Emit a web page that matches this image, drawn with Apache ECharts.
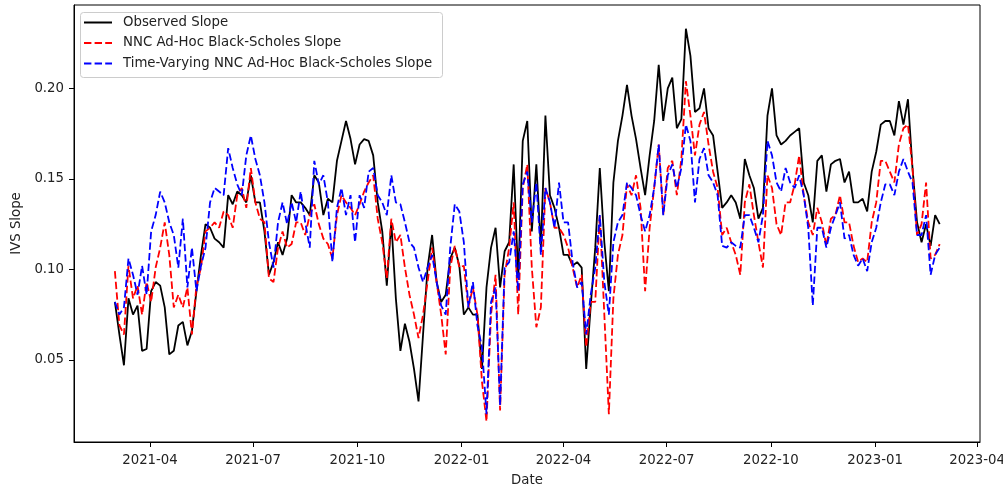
<!DOCTYPE html>
<html><head><meta charset="utf-8">
<script src="https://cdn.jsdelivr.net/npm/echarts@6/dist/echarts.min.js"></script>
<style>html,body{margin:0;padding:0;background:#fff}#c{width:1003px;height:493px}</style>
</head><body><div id="c"></div>
<script>
const startDate = '2021-03-01';
const stepDays = 4;
const observed = [
0.082,0.064,0.047,0.084,0.075,0.080,0.055,0.056,0.088,0.093,0.091,0.079,0.053,0.055,0.069,0.071,0.058,0.066,0.088,0.108,
0.125,0.123,0.117,0.115,0.112,0.141,0.136,0.143,0.141,0.137,0.152,0.137,0.137,0.121,0.097,0.104,0.115,0.108,0.117,0.141,0.137,
0.137,0.134,0.130,0.152,0.148,0.130,0.139,0.137,0.160,0.171,0.182,0.172,0.158,0.169,0.172,0.171,0.163,0.137,0.121,0.091,0.126,0.084,
0.055,0.070,0.060,0.045,0.027,0.064,0.101,0.119,0.093,0.082,0.086,0.106,0.112,0.102,0.075,0.079,0.075,0.075,0.045,0.090,0.112,
0.123,0.090,0.110,0.115,0.158,0.095,0.171,0.182,0.121,0.158,0.112,0.185,0.141,0.134,0.123,0.108,0.108,0.102,0.104,0.101,0.045,0.080,
0.112,0.156,0.115,0.088,0.148,0.171,0.185,0.202,0.185,0.172,0.156,0.141,0.163,0.182,0.213,0.182,0.200,0.206,0.178,0.183,0.233,
0.218,0.187,0.189,0.200,0.178,0.174,0.154,0.134,0.137,0.141,0.137,0.128,0.161,0.152,0.145,0.128,0.134,0.185,0.200,0.174,0.169,
0.171,0.174,0.176,0.178,0.148,0.141,0.126,0.160,0.163,0.143,0.158,0.160,0.161,0.148,0.154,0.137,0.137,0.139,0.132,0.154,0.165,0.180,
0.182,0.182,0.174,0.193,0.180,0.194,0.156,0.126,0.115,0.125,0.113,0.130,0.125
];
const nncAdHoc = [
0.099,0.069,0.064,0.102,0.084,0.091,0.075,0.093,0.082,0.101,0.112,0.126,0.108,0.079,0.086,0.079,0.090,0.064,0.091,0.101,
0.121,0.123,0.126,0.123,0.132,0.130,0.123,0.141,0.145,0.134,0.156,0.137,0.128,0.126,0.095,0.093,0.112,0.121,0.112,0.114,0.126,
0.126,0.119,0.130,0.136,0.125,0.117,0.114,0.106,0.130,0.141,0.137,0.134,0.130,0.136,0.143,0.148,0.152,0.128,0.115,0.095,0.128,0.115,
0.119,0.101,0.086,0.075,0.062,0.075,0.093,0.112,0.093,0.075,0.053,0.101,0.113,0.101,0.102,0.079,0.090,0.075,0.038,0.016,0.075,
0.097,0.022,0.097,0.112,0.137,0.075,0.145,0.158,0.101,0.068,0.079,0.145,0.137,0.123,0.123,0.119,0.112,0.101,0.090,0.097,0.057,0.082,
0.082,0.130,0.075,0.020,0.084,0.108,0.119,0.147,0.141,0.152,0.134,0.088,0.123,0.145,0.169,0.130,0.156,0.160,0.141,0.161,0.204,
0.185,0.163,0.180,0.187,0.169,0.154,0.145,0.119,0.123,0.115,0.108,0.097,0.137,0.147,0.130,0.115,0.101,0.152,0.145,0.125,0.119,
0.137,0.137,0.147,0.163,0.141,0.126,0.119,0.134,0.126,0.113,0.128,0.130,0.141,0.126,0.126,0.113,0.104,0.106,0.104,0.126,0.137,0.160,
0.160,0.154,0.148,0.169,0.178,0.180,0.156,0.119,0.125,0.148,0.106,0.108,0.114
];
const timeVarying = [
0.082,0.075,0.079,0.106,0.097,0.086,0.102,0.086,0.121,0.130,0.143,0.137,0.126,0.119,0.101,0.128,0.090,0.112,0.088,0.102,
0.112,0.137,0.145,0.143,0.141,0.167,0.156,0.147,0.141,0.163,0.174,0.161,0.152,0.137,0.115,0.101,0.126,0.137,0.125,0.137,0.126,
0.143,0.126,0.112,0.160,0.147,0.152,0.137,0.104,0.134,0.145,0.130,0.141,0.115,0.141,0.134,0.154,0.156,0.141,0.137,0.130,0.152,0.137,
0.136,0.126,0.115,0.112,0.101,0.093,0.101,0.108,0.093,0.080,0.075,0.112,0.136,0.132,0.115,0.079,0.093,0.069,0.057,0.020,0.082,
0.090,0.025,0.101,0.104,0.121,0.088,0.147,0.154,0.126,0.148,0.108,0.145,0.137,0.123,0.148,0.126,0.126,0.104,0.090,0.093,0.064,0.086,
0.101,0.130,0.093,0.075,0.115,0.126,0.130,0.148,0.145,0.141,0.130,0.121,0.130,0.145,0.169,0.130,0.152,0.158,0.145,0.156,0.180,
0.171,0.137,0.161,0.167,0.152,0.148,0.141,0.113,0.112,0.115,0.113,0.112,0.130,0.130,0.123,0.115,0.130,0.171,0.163,0.148,0.143,
0.156,0.148,0.145,0.152,0.141,0.123,0.080,0.123,0.123,0.112,0.123,0.130,0.137,0.117,0.119,0.108,0.102,0.106,0.099,0.115,0.123,0.137,
0.147,0.147,0.141,0.154,0.161,0.154,0.148,0.119,0.119,0.130,0.097,0.108,0.112
];
const seriesNames = ['Observed Slope','NNC Ad-Hoc Black-Scholes Slope','Time-Varying NNC Ad-Hoc Black-Scholes Slope'];
const seriesColors = ['#000000', '#ff0000', '#0000ff'];
const yTicks = [0.05, 0.10, 0.15, 0.20];
const xTickDates = ['2021-04-01','2021-07-01','2021-10-01','2022-01-01','2022-04-01','2022-07-01','2022-10-01','2023-01-01','2023-04-01'];
const xRange = ['2021-01-23T22:00:00Z','2023-04-03T14:00:00Z'];
const yRange = [0.0046, 0.2461];

const DAY = 86400000;
const t0 = Date.parse(startDate + 'T00:00:00Z');
const dates = observed.map((_, i) => t0 + i * stepDays * DAY);
const pair = arr => arr.map((v, i) => [dates[i], v]);
const xTicks = xTickDates.map(d => Date.parse(d + 'T00:00:00Z'));
const font = 'DejaVu Sans';
const fs = 13.3;
const fmtDate = v => { const d = new Date(v); return d.getUTCFullYear() + '-' + String(d.getUTCMonth() + 1).padStart(2, '0'); };
const dash = [7.4, 3.2];
const dashes = [null, dash, dash];

// legend drawn as graphic (box, line samples, real text)
const legendEls = [{
  type: 'rect', left: 80, top: 12, z: 100,
  shape: {width: 362, height: 65, r: 3},
  style: {fill: 'rgba(255,255,255,0.8)', stroke: '#cccccc', lineWidth: 1}
}];
seriesNames.forEach((name, k) => {
  const y = 22.5 + k * 20.5;
  legendEls.push({
    type: 'line', z: 101,
    shape: {x1: 84, y1: y, x2: 112, y2: y},
    style: {stroke: seriesColors[k], lineWidth: 2, lineDash: dashes[k]}
  });
  legendEls.push({
    type: 'text', z: 101, x: 123, y: y,
    style: {text: name, font: fs + 'px "DejaVu Sans"', fill: '#222', verticalAlign: 'middle', textAlign: 'left'}
  });
});

const chart = echarts.init(document.getElementById('c'), null, {renderer: 'canvas'});
chart.setOption({
  animation: false,
  backgroundColor: '#fff',
  grid: {left: 74, right: 23, top: 5, bottom: 51, show: true, borderColor: '#000', borderWidth: 1,
         containLabel: false, outerBoundsMode: 'none'},
  graphic: legendEls,
  xAxis: {
    type: 'value', min: Date.parse(xRange[0]), max: Date.parse(xRange[1]),
    name: 'Date', nameLocation: 'middle', nameGap: 32,
    nameTextStyle: {fontFamily: font, fontSize: fs, color: '#222'},
    axisLine: {show: true, onZero: false, lineStyle: {color: '#000', width: 1}},
    axisTick: {show: true, length: 5, lineStyle: {color: '#000'}, customValues: xTicks},
    axisLabel: {fontFamily: font, fontSize: fs, color: '#222', margin: 12, customValues: xTicks, formatter: fmtDate},
    splitLine: {show: false}
  },
  yAxis: {
    type: 'value', min: yRange[0], max: yRange[1],
    name: 'IVS Slope', nameLocation: 'middle', nameGap: 44, nameRotate: 90,
    nameTextStyle: {fontFamily: font, fontSize: fs, color: '#222'},
    axisLine: {show: true, onZero: false, lineStyle: {color: '#000', width: 1}},
    axisTick: {show: true, length: 5, lineStyle: {color: '#000'}, customValues: yTicks},
    axisLabel: {fontFamily: font, fontSize: fs, color: '#222', margin: 10, customValues: yTicks, formatter: v => v.toFixed(2)},
    splitLine: {show: false}
  },
  series: seriesNames.map((name, k) => ({
    name: name, type: 'line', data: pair([observed, nncAdHoc, timeVarying][k]),
    showSymbol: false, symbol: 'none', color: seriesColors[k],
    lineStyle: {color: seriesColors[k], width: 1.8, type: dashes[k] || 'solid'}, z: 2 + k
  }))
});
</script>
</body></html>
